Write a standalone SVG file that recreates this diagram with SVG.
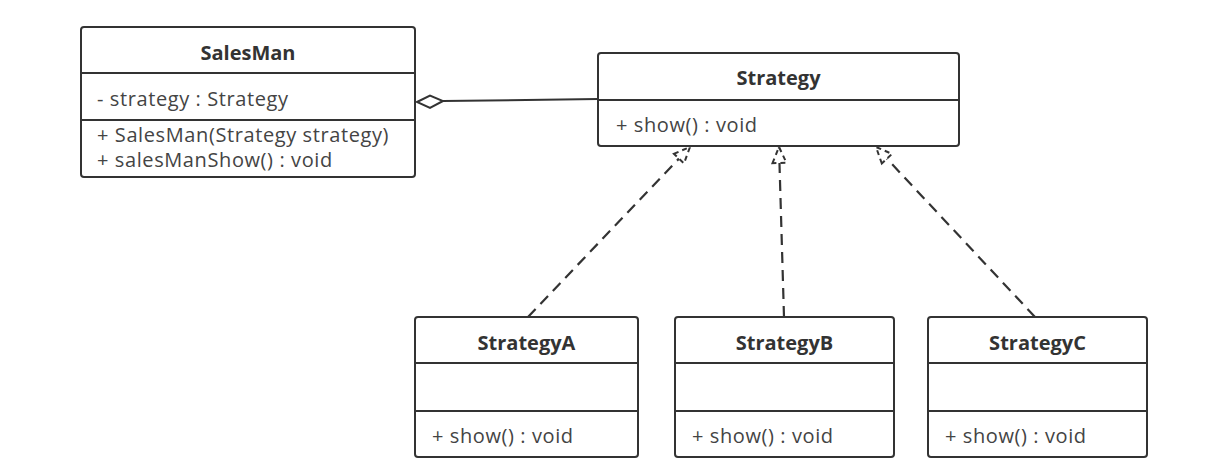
<svg xmlns="http://www.w3.org/2000/svg" width="1219" height="471" viewBox="0 0 1219 471">
<style>
.box{fill:#fff;stroke:#333;stroke-width:2}
.div{stroke:#333;stroke-width:2}
.t{font-family:"Open Sans","Liberation Sans",sans-serif;font-size:20px;letter-spacing:0.6px;fill:#444}
.b{font-family:"Open Sans","Liberation Sans",sans-serif;font-size:20px;font-weight:bold;fill:#333;text-anchor:middle}
.dash{fill:none;stroke:#333;stroke-width:2.2;stroke-dasharray:11 7}
</style>
<defs>
<marker id="real" viewBox="0 0 20 20" refX="18" refY="10" markerWidth="20" markerHeight="20" markerUnits="userSpaceOnUse" orient="auto">
<path d="M2,3 L18,10 L2,17 Z" fill="#fff" stroke="#333" stroke-width="2" stroke-dasharray="5 4"/>
</marker>
</defs>
<rect width="1219" height="471" fill="#fff"/>
<g id="connectors">
<path d="M443,101 L598,99" fill="none" stroke="#333" stroke-width="2"/>
<polygon points="417,102 430,95.5 443,101 430,108" fill="#fff" stroke="#333" stroke-width="2"/>
<path class="dash" d="M528,317 L690,147" marker-end="url(#real)"/>
<path class="dash" d="M784,317 L779,147" marker-end="url(#real)"/>
<path class="dash" d="M1035,317 L876,147" marker-end="url(#real)"/>
</g>
<g id="SalesMan">
<rect class="box" x="81" y="27" width="334" height="150" rx="3"/>
<line class="div" x1="81" y1="73" x2="415" y2="73"/>
<line class="div" x1="81" y1="120" x2="415" y2="120"/>
<text class="b" x="248" y="60">SalesMan</text>
<text class="t" x="97" y="106">- strategy : Strategy</text>
<text class="t" x="97" y="142">+ SalesMan(Strategy strategy)</text>
<text class="t" x="97" y="167">+ salesManShow() : void</text>
</g>
<g id="Strategy">
<rect class="box" x="598" y="53" width="361" height="93" rx="3"/>
<line class="div" x1="598" y1="100" x2="959" y2="100"/>
<text class="b" x="778.5" y="85">Strategy</text>
<text class="t" x="616" y="132">+ show() : void</text>
</g>
<g id="StrategyA">
<rect class="box" x="415" y="317" width="223" height="140" rx="3"/>
<line class="div" x1="415" y1="363" x2="638" y2="363"/>
<line class="div" x1="415" y1="411" x2="638" y2="411"/>
<text class="b" x="526.5" y="350">StrategyA</text>
<text class="t" x="432" y="443">+ show() : void</text>
</g>
<g id="StrategyB">
<rect class="box" x="675" y="317" width="219" height="140" rx="3"/>
<line class="div" x1="675" y1="363" x2="894" y2="363"/>
<line class="div" x1="675" y1="411" x2="894" y2="411"/>
<text class="b" x="784.5" y="350">StrategyB</text>
<text class="t" x="692" y="443">+ show() : void</text>
</g>
<g id="StrategyC">
<rect class="box" x="928" y="317" width="219" height="140" rx="3"/>
<line class="div" x1="928" y1="363" x2="1147" y2="363"/>
<line class="div" x1="928" y1="411" x2="1147" y2="411"/>
<text class="b" x="1037.5" y="350">StrategyC</text>
<text class="t" x="945" y="443">+ show() : void</text>
</g>
</svg>
